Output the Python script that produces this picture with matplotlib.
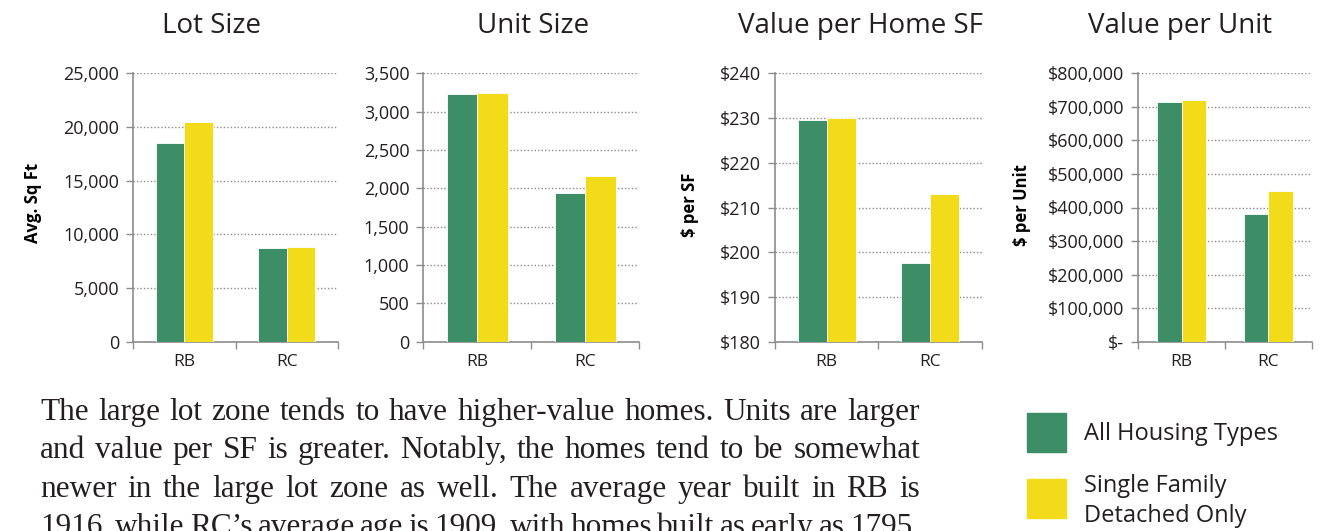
import numpy as np
import matplotlib
matplotlib.use("Agg")
import matplotlib.pyplot as plt
from matplotlib.patches import Rectangle
from matplotlib.ticker import FuncFormatter

plt.rcParams['font.family'] = ['Open Sans', 'DejaVu Sans']

W, H = 1325, 531

# data
zones = ["RB", "RC"]
series = ["All Housing Types", "Single Family\nDetached Only"]
lot_all = [18500, 8700]
lot_sfd = [20450, 8800]
unit_all = [3225, 1940]
unit_sfd = [3240, 2165]
vsf_all = [229.6, 197.7]
vsf_sfd = [230.1, 213.0]
vunit_all = [715000, 381000]
vunit_sfd = [719500, 450000]

titles = ["Lot Size", "Unit Size", "Value per Home SF", "Value per Unit"]
ylabels = ["Avg. Sq Ft", None, "$ per SF", "$ per Unit"]

paragraph = [
    "The large lot zone tends to have higher-value homes. Units are larger",
    "and value per SF is greater. Notably, the homes tend to be somewhat",
    "newer in the large lot zone as well. The average year built in RB is",
    "1916, while RC\u2019s average age is 1909, with homes built as early as 1795.",
]

GREEN = "#3d8e67"
YELLOW = "#f2dc1a"
GREY = "#8c8c8c"
TXT = "#231f20"

fig = plt.figure(figsize=(W / 100, H / 100), dpi=100)

def px(x, y):
    return x / W, 1 - y / H

# axes boxes in pixels: left, right
boxes = [(133, 338), (423.3, 639.3), (775, 981.7), (1138.3, 1311.7)]
top, bottom = 73.3, 341.7

panels = [
    (lot_all, lot_sfd, (0, 25000), np.arange(0, 25001, 5000), lambda v, p: f"{v:,.0f}"),
    (unit_all, unit_sfd, (0, 3500), np.arange(0, 3501, 500), lambda v, p: f"{v:,.0f}"),
    (vsf_all, vsf_sfd, (180, 240), np.arange(180, 241, 10), lambda v, p: f"${v:.0f}"),
    (vunit_all, vunit_sfd, (0, 800000), np.arange(0, 800001, 100000),
     lambda v, p: "$-" if v == 0 else f"${v:,.0f}"),
]

x = np.arange(len(zones))
bw = 0.28
for (l, r), (a, b, ylim, ticks, fmt) in zip(boxes, panels):
    ax = fig.add_axes([l / W, 1 - bottom / H, (r - l) / W, (bottom - top) / H])
    ax.bar(x - bw / 2, a, bw, color=GREEN, edgecolor="white", linewidth=0.6, zorder=3)
    ax.bar(x + bw / 2, b, bw, color=YELLOW, edgecolor="white", linewidth=0.6, zorder=3)
    ax.set_xlim(-0.5, 1.5)
    ax.set_ylim(*ylim)
    ax.set_yticks(ticks)
    ax.yaxis.set_major_formatter(FuncFormatter(fmt))
    ax.set_xticks([-0.5, 0.5, 1.5])
    ax.set_xticklabels([])
    ax.set_xticks(x, minor=True)
    ax.set_xticklabels(zones, minor=True)
    ax.tick_params(axis="x", which="minor", length=0, labelsize=12.5, pad=9, colors=TXT)
    ax.tick_params(axis="x", which="major", length=5, color=GREY, width=1)
    ax.tick_params(axis="y", length=5, color=GREY, width=1, labelsize=13, pad=5, labelcolor=TXT)
    for s in ["top", "right"]:
        ax.spines[s].set_visible(False)
    for s in ["left", "bottom"]:
        ax.spines[s].set_color(GREY)
        ax.spines[s].set_linewidth(1.2)
    ax.yaxis.grid(True, linestyle=(0, (1, 1.5)), color=GREY, linewidth=1)
    ax.set_axisbelow(True)

# titles
for t, cx in zip(titles, [212, 533, 860, 1180]):
    fig.text(*px(cx, 33), t, ha="center", va="baseline", fontsize=20, color=TXT)

# y labels
for lab, pos in zip(ylabels, [(33, 203), None, (690, 205), (1022, 205)]):
    if lab is None:
        continue
    fig.text(*px(*pos), lab, rotation=90, ha="center", va="center",
             fontsize=12, fontweight="bold", color="black")

# legend swatches
for (y0, col) in [(413, GREEN), (479, YELLOW)]:
    fig.add_artist(Rectangle(px(1027, y0 + 39), 39 / W, 39 / H,
                             transform=fig.transFigure, color=col))
fig.text(*px(1084, 439.5), series[0], fontsize=17, color=TXT, va="baseline")
fig.text(*px(1084, 491.5), series[1].split("\n")[0], fontsize=17, color=TXT, va="baseline")
fig.text(*px(1084, 522), series[1].split("\n")[1], fontsize=17, color=TXT, va="baseline")

# justified paragraph (last line runs off the bottom edge, as in the source page)
r = fig.canvas.get_renderer()
x0, x1 = 40, 920
base = 420
dy = 38.4
probe = fig.text(0, 0, paragraph[0], fontsize=20, family="Liberation Serif")
wmax = max(probe.set_text(s) or probe.get_window_extent(r).width for s in paragraph)
probe.remove()
fsize = 20 * (x1 - x0) / wmax * 1.04
for i, line in enumerate(paragraph):
    words = line.split()
    y = base + i * dy
    tx = [fig.text(0, 1 - y / H, w, fontsize=fsize, family="Liberation Serif",
                   color=TXT, va="baseline") for w in words]
    ws = [t.get_window_extent(r).width for t in tx]
    gap = (x1 - x0 - sum(ws)) / (len(words) - 1)
    xx = x0
    for t, w in zip(tx, ws):
        t.set_x(xx / W)
        xx += w + gap

fig.savefig("out.png", dpi=100)
